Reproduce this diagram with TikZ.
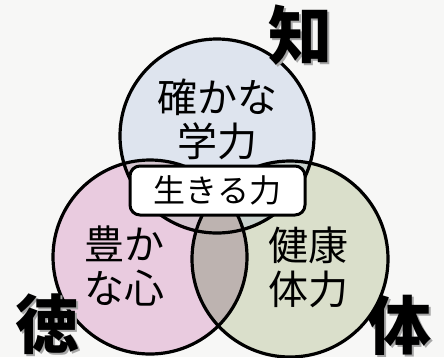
\documentclass[tikz,border=0pt]{standalone}
\usepackage{fontspec}
\newfontfamily\jp{Noto Sans CJK JP}
\definecolor{bgc}{HTML}{F7F7F6}
\definecolor{topc}{HTML}{DEE4EE}
\definecolor{leftc}{HTML}{E9CBDF}
\definecolor{rightc}{HTML}{DADFCB}
\definecolor{lrc}{HTML}{BDB3B0}
\definecolor{tlc}{HTML}{D5C6D0}
\definecolor{trc}{HTML}{C9D2CE}
\tikzset{
  ring/.style={line width=3.2pt, draw=black},
  bigtext/.style={font=\jp\fontsize{40}{44}\selectfont, align=center, inner sep=0pt},
  lbl/.style={font=\jp\bfseries\fontsize{64}{64}\selectfont, inner sep=0pt},
  shade/.style={lbl, text=black!35},
  lifebox/.style={draw=black, line width=3pt, fill=white, rounded corners=10pt,
    minimum width=175pt, minimum height=49pt, inner sep=0pt,
    font=\jp\fontsize{32}{32}\selectfont}
}
\begin{document}
\begin{tikzpicture}[x=1pt,y=-1pt]
\useasboundingbox (0,0) rectangle (444,357);
\fill[bgc] (0,0) rectangle (444,357);
% centres
\coordinate (T) at (217,136);
\coordinate (L) at (150,257);
\coordinate (R) at (290,259);
% fills
\fill[topc] (T) circle[radius=97pt];
\fill[leftc] (L) circle[radius=97pt];
\fill[rightc] (R) circle[radius=98pt];
\begin{scope}
  \clip (T) circle[radius=97pt];
  \fill[tlc] (L) circle[radius=97pt];
  \fill[trc] (R) circle[radius=98pt];
\end{scope}
\begin{scope}
  \clip (L) circle[radius=97pt];
  \fill[lrc] (R) circle[radius=98pt];
\end{scope}
% outlines
\draw[ring] (T) circle[radius=97pt];
\draw[ring] (L) circle[radius=97pt];
\draw[ring] (R) circle[radius=98pt];
% texts
\node[bigtext] (gaku) at (217,119) {確かな\\学力};
\node[bigtext] (kokoro) at (124,266) {豊か\\な心};
\node[bigtext] (tairyoku) at (308,267) {健康\\体力};
\node[lifebox] (ikiru) at (217.5,190.5) {生きる力};
% corner labels with soft shadow
\node[shade] (chis) at (302,37) {知};
\node[shade] (tokus) at (49,326) {徳};
\node[shade] (tais) at (401,327) {体};
\node[lbl] (chi) at (300,35) {知};
\node[lbl] (toku) at (47,324) {徳};
\node[lbl] (tai) at (399,325) {体};
\end{tikzpicture}
\end{document}
